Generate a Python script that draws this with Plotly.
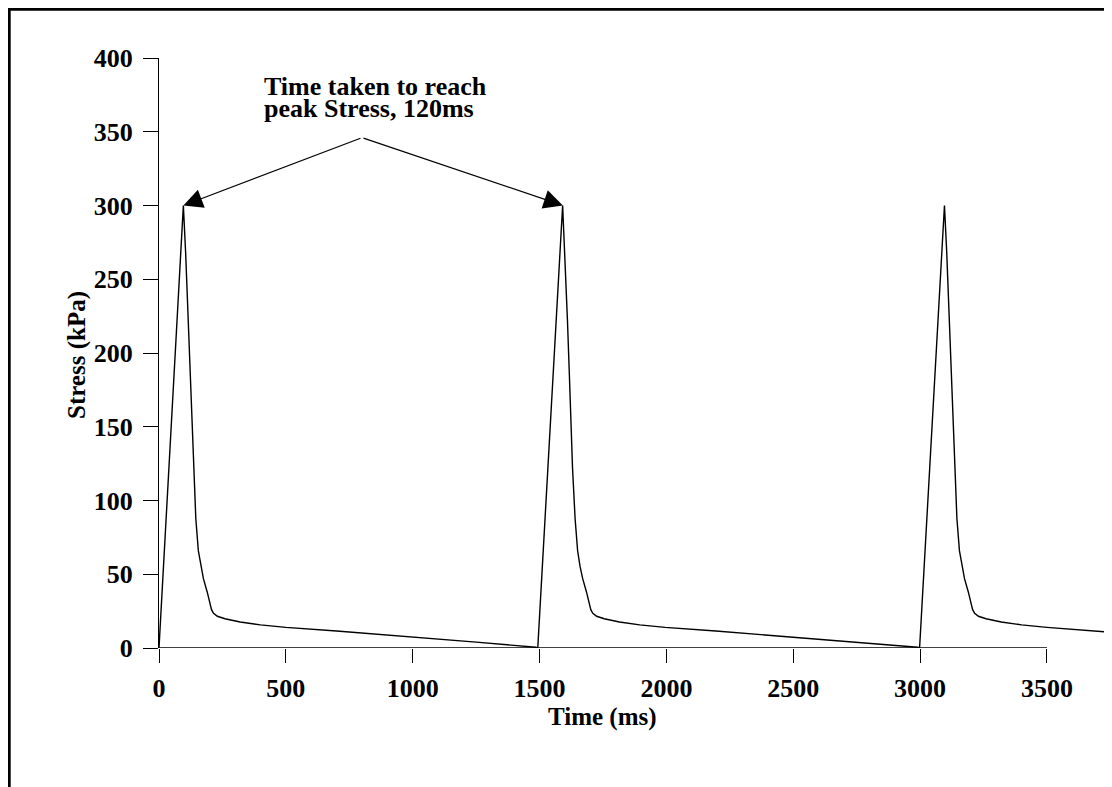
import plotly.graph_objects as go

# ---- data ----
time_ms = [
    0, 96, 105, 115, 122, 135, 145, 155, 165, 175, 190, 200, 207, 215, 230, 260, 320, 400, 500, 700, 1000, 1250, 1485,
    1493, 1591, 1600, 1610, 1617, 1630, 1640, 1650, 1660, 1670, 1685, 1695, 1702, 1710, 1725, 1755, 1815, 1895, 1995, 2195, 2495, 2745, 2990,
    2998, 3096, 3105, 3115, 3122, 3135, 3145, 3155, 3165, 3175, 3190, 3200, 3207, 3215, 3230, 3260, 3320, 3400, 3500, 3740,
]
stress_kpa = [
    0, 300, 268, 222, 188, 122, 88, 66, 55, 47, 38, 31, 26, 23.5, 21.5, 19.8, 17.6, 15.7, 14, 11.5, 7.5, 4, 0.5,
    0, 300, 268, 222, 188, 122, 88, 66, 55, 47, 38, 31, 26, 23.5, 21.5, 19.8, 17.6, 15.7, 14, 11.5, 7.5, 4, 0.5,
    0, 300, 268, 222, 188, 122, 88, 66, 55, 47, 38, 31, 26, 23.5, 21.5, 19.8, 17.6, 15.7, 14, 10.8,
]
x_ticks = [0, 500, 1000, 1500, 2000, 2500, 3000, 3500]
y_ticks = [0, 50, 100, 150, 200, 250, 300, 350, 400]
peak_points = [(96, 300), (1592, 300)]
arrow_origin = (800, 346)
note_lines = ["Time taken to reach", "peak Stress, 120ms"]
x_title = "Time (ms)"
y_title = "Stress (kPa)"

FONT = "Liberation Serif"
W, H = 1112, 787
L, R, T, B = 151, 0, 50, 147          # page body adds an 8px offset
PW, PH = W - L - R, H - T - B
X0_PX, Y0_PX = 159, 648               # screen position of the plot's bottom-left


def px_to_paper_x(px):
    return (px - X0_PX) / PW


def px_to_paper_y(py):
    return (Y0_PX - py) / PH


fig = go.Figure()
fig.add_trace(go.Scatter(
    x=time_ms, y=stress_kpa, mode="lines",
    line=dict(color="black", width=1.4),
    hoverinfo="skip", showlegend=False,
))

tickfont = dict(family=FONT, size=26, color="black", weight="bold")

fig.update_layout(
    width=W, height=H,
    margin=dict(l=L, r=R, t=T, b=B),
    paper_bgcolor="white", plot_bgcolor="white",
    showlegend=False,
    xaxis=dict(
        range=[0, PW / 0.2537], tickvals=x_ticks, ticktext=[str(v) for v in x_ticks],
        ticks="outside", ticklen=14, tickwidth=1.3, tickcolor="black",
        showline=False, showgrid=False, zeroline=False,
        tickfont=tickfont, ticklabelstandoff=3,
    ),
    yaxis=dict(
        range=[0, 400], tickvals=y_ticks, ticktext=[str(v) for v in y_ticks],
        ticks="outside", ticklen=15, tickwidth=1.3, tickcolor="black",
        showline=True, linecolor="black", linewidth=1.3,
        showgrid=False, zeroline=False,
        tickfont=tickfont, ticklabelstandoff=5,
    ),
)

# x axis line only spans the ticked range
fig.add_shape(type="line", xref="x", yref="y", x0=x_ticks[0], x1=x_ticks[-1], y0=0, y1=0,
              line=dict(color="black", width=1.3), layer="above")

# outer frame
fig.add_shape(type="rect", xref="paper", yref="paper",
              x0=px_to_paper_x(9.2), x1=px_to_paper_x(1135),
              y0=px_to_paper_y(810), y1=px_to_paper_y(9.3),
              line=dict(color="black", width=3), fillcolor="rgba(0,0,0,0)", layer="above")

annots = []
# axis titles
annots.append(dict(text=x_title, xref="x", yref="paper", x=(x_ticks[0] + x_ticks[-1]) / 2,
                   y=px_to_paper_y(717), xanchor="center", yanchor="middle", showarrow=False,
                   font=dict(family=FONT, size=25, color="black", weight="bold")))
annots.append(dict(text=y_title, xref="paper", yref="paper", x=px_to_paper_x(77),
                   y=px_to_paper_y(355), xanchor="center", yanchor="middle", showarrow=False,
                   textangle=-90,
                   font=dict(family=FONT, size=25, color="black", weight="bold")))
# note text
for line, cy in zip(note_lines, [86, 109]):
    annots.append(dict(text=line, xref="paper", yref="paper", x=px_to_paper_x(262), y=px_to_paper_y(cy),
                       xanchor="left", yanchor="middle", showarrow=False, align="left",
                       font=dict(family=FONT, size=26, color="black", weight="bold")))
# arrows
for (px_, py_) in peak_points:
    annots.append(dict(text="", x=px_, y=py_, xref="x", yref="y",
                       ax=arrow_origin[0], ay=arrow_origin[1], axref="x", ayref="y",
                       showarrow=True, arrowhead=2, arrowsize=3.2, arrowwidth=1.2,
                       arrowcolor="black"))
fig.update_layout(annotations=annots)

fig.write_html("out.html")
